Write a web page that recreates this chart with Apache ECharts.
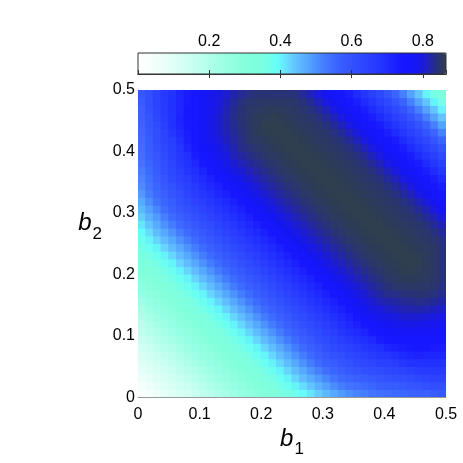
<!DOCTYPE html>
<html>
<head>
<meta charset="utf-8">
<script src="https://cdn.jsdelivr.net/npm/echarts@6/dist/echarts.min.js"></script>
<style>
  html, body { margin: 0; padding: 0; background: #fff; }
  #main { width: 463px; height: 463px; }
</style>
</head>
<body>
<div id="main"></div>
<script>
// cell centres along b1 and b2
const b1Centers = [0.00625, 0.01875, 0.03125, 0.04375, 0.05625, 0.06875, 0.08125, 0.09375, 0.10625, 0.11875,
                   0.13125, 0.14375, 0.15625, 0.16875, 0.18125, 0.19375, 0.20625, 0.21875, 0.23125, 0.24375,
                   0.25625, 0.26875, 0.28125, 0.29375, 0.30625, 0.31875, 0.33125, 0.34375, 0.35625, 0.36875,
                   0.38125, 0.39375, 0.40625, 0.41875, 0.43125, 0.44375, 0.45625, 0.46875, 0.48125, 0.49375];
const b2Centers = [0.00625, 0.01875, 0.03125, 0.04375, 0.05625, 0.06875, 0.08125, 0.09375, 0.10625, 0.11875,
                   0.13125, 0.14375, 0.15625, 0.16875, 0.18125, 0.19375, 0.20625, 0.21875, 0.23125, 0.24375,
                   0.25625, 0.26875, 0.28125, 0.29375, 0.30625, 0.31875, 0.33125, 0.34375, 0.35625, 0.36875,
                   0.38125, 0.39375, 0.40625, 0.41875, 0.43125, 0.44375, 0.45625, 0.46875, 0.48125, 0.49375];

// values, one row per b2 (bottom row first), one entry per b1
const values = [
  [.02,.04,.06,.08,.10,.115,.13,.15,.17,.185,.20,.22,.24,.255,.27,.29,.31,.325,.34,.36,.375,.392,.413,.434,.455,.473,.49,.505,.515,.523,.535,.54,.545,.55,.555,.56,.565,.565,.575,.585],
  [.04,.06,.08,.10,.115,.13,.15,.17,.185,.20,.22,.24,.255,.27,.29,.31,.325,.34,.36,.38,.40,.42,.442,.463,.484,.505,.523,.535,.54,.55,.558,.57,.575,.575,.585,.59,.59,.605,.61,.61],
  [.06,.08,.10,.115,.13,.15,.17,.185,.20,.22,.24,.255,.27,.29,.31,.325,.34,.36,.38,.40,.425,.45,.47,.492,.513,.534,.55,.558,.57,.575,.585,.593,.60,.61,.61,.615,.63,.635,.64,.64],
  [.08,.10,.115,.13,.15,.17,.185,.20,.22,.24,.255,.27,.29,.31,.325,.34,.36,.38,.40,.425,.45,.475,.50,.52,.542,.558,.569,.585,.593,.605,.61,.615,.628,.635,.64,.65,.66,.665,.665,.665],
  [.10,.115,.13,.15,.17,.185,.20,.22,.24,.255,.27,.29,.31,.325,.34,.36,.38,.40,.425,.45,.475,.50,.525,.55,.565,.577,.593,.604,.62,.628,.635,.645,.65,.658,.675,.685,.685,.69,.69,.685],
  [.115,.13,.15,.17,.185,.20,.22,.24,.255,.27,.29,.31,.325,.34,.36,.38,.40,.425,.45,.475,.50,.525,.55,.57,.585,.60,.612,.628,.639,.65,.663,.67,.675,.69,.703,.71,.715,.71,.71,.71],
  [.13,.15,.17,.185,.20,.22,.24,.255,.27,.29,.31,.325,.34,.36,.38,.40,.425,.45,.475,.50,.525,.55,.57,.585,.605,.62,.635,.647,.658,.674,.685,.693,.71,.72,.725,.733,.735,.735,.73,.728],
  [.15,.17,.185,.20,.22,.24,.255,.27,.29,.31,.325,.34,.36,.38,.40,.425,.45,.475,.50,.525,.55,.57,.585,.605,.62,.64,.655,.665,.682,.693,.704,.725,.738,.745,.75,.75,.753,.755,.753,.745],
  [.17,.185,.20,.22,.24,.255,.27,.29,.31,.325,.34,.36,.38,.40,.425,.45,.475,.50,.525,.55,.57,.585,.605,.62,.64,.655,.67,.69,.70,.712,.733,.749,.76,.768,.77,.77,.77,.771,.77,.767],
  [.185,.20,.22,.24,.255,.27,.29,.31,.325,.34,.36,.38,.40,.425,.45,.475,.50,.525,.55,.57,.585,.605,.62,.64,.655,.67,.69,.705,.72,.74,.757,.768,.779,.785,.788,.79,.788,.785,.785,.783],
  [.20,.22,.24,.255,.27,.29,.31,.325,.34,.36,.38,.40,.425,.45,.475,.50,.525,.55,.57,.585,.605,.62,.64,.655,.67,.69,.705,.72,.745,.765,.775,.787,.793,.799,.805,.806,.805,.802,.798,.796],
  [.22,.24,.255,.27,.29,.31,.325,.34,.36,.38,.40,.425,.45,.475,.50,.525,.55,.57,.585,.605,.62,.64,.655,.67,.69,.705,.72,.745,.765,.78,.795,.80,.807,.813,.817,.82,.82,.818,.813,.807],
  [.24,.255,.27,.29,.31,.325,.34,.36,.38,.40,.425,.45,.475,.50,.525,.55,.57,.585,.605,.62,.64,.655,.67,.69,.705,.72,.745,.765,.78,.795,.805,.815,.82,.825,.828,.831,.833,.831,.827,.82],
  [.255,.27,.29,.31,.325,.34,.36,.38,.40,.425,.45,.475,.50,.525,.55,.57,.585,.605,.62,.64,.655,.67,.69,.705,.72,.745,.765,.78,.795,.805,.815,.825,.833,.835,.839,.841,.842,.842,.838,.83],
  [.27,.29,.31,.325,.34,.36,.38,.40,.425,.45,.475,.50,.525,.55,.57,.585,.605,.62,.64,.655,.67,.69,.705,.72,.745,.765,.78,.795,.805,.815,.825,.833,.84,.847,.848,.85,.85,.849,.845,.837],
  [.29,.31,.325,.34,.36,.38,.40,.425,.45,.475,.50,.525,.55,.57,.585,.605,.62,.64,.655,.67,.69,.705,.72,.745,.765,.78,.795,.805,.815,.825,.833,.84,.847,.853,.858,.857,.857,.853,.848,.842],
  [.31,.325,.34,.36,.38,.40,.425,.45,.475,.50,.525,.55,.57,.585,.605,.62,.64,.655,.67,.69,.705,.72,.745,.765,.78,.795,.805,.815,.825,.833,.84,.847,.853,.858,.862,.865,.86,.856,.85,.842],
  [.325,.34,.36,.38,.40,.425,.45,.475,.50,.525,.55,.57,.585,.605,.62,.64,.655,.67,.69,.705,.72,.745,.765,.78,.795,.805,.815,.825,.833,.84,.847,.853,.858,.862,.865,.865,.864,.857,.85,.842],
  [.34,.36,.38,.40,.425,.45,.475,.50,.525,.55,.57,.585,.605,.62,.64,.655,.67,.69,.705,.72,.745,.765,.78,.795,.805,.815,.825,.833,.84,.847,.853,.858,.862,.865,.865,.864,.862,.858,.849,.842],
  [.36,.38,.40,.425,.45,.475,.50,.525,.55,.57,.585,.605,.62,.64,.655,.67,.69,.705,.72,.745,.765,.78,.795,.805,.815,.825,.833,.84,.847,.853,.858,.862,.865,.865,.864,.862,.858,.854,.85,.84],
  [.375,.40,.425,.45,.475,.50,.525,.55,.57,.585,.605,.62,.64,.655,.67,.69,.705,.72,.745,.765,.78,.795,.805,.815,.825,.833,.84,.847,.853,.858,.862,.865,.865,.864,.862,.858,.854,.85,.845,.838],
  [.392,.42,.45,.475,.50,.525,.55,.57,.585,.605,.62,.64,.655,.67,.69,.705,.72,.745,.765,.78,.795,.805,.815,.825,.833,.84,.847,.853,.858,.862,.865,.865,.864,.862,.858,.854,.85,.845,.838,.828],
  [.413,.442,.47,.50,.525,.55,.57,.585,.605,.62,.64,.655,.67,.69,.705,.72,.745,.765,.78,.795,.805,.815,.825,.833,.84,.847,.853,.858,.862,.865,.865,.864,.862,.858,.854,.85,.845,.838,.828,.815],
  [.434,.463,.492,.52,.55,.57,.585,.605,.62,.64,.655,.67,.69,.705,.72,.745,.765,.78,.795,.805,.815,.825,.833,.84,.847,.853,.858,.862,.865,.865,.864,.862,.858,.854,.85,.845,.838,.828,.815,.80],
  [.455,.484,.513,.542,.565,.585,.605,.62,.64,.655,.67,.69,.705,.72,.745,.765,.78,.795,.805,.815,.825,.833,.84,.847,.853,.858,.862,.865,.865,.864,.862,.858,.854,.85,.845,.838,.828,.815,.80,.78],
  [.473,.505,.534,.558,.577,.60,.62,.64,.655,.67,.69,.705,.72,.745,.765,.78,.795,.805,.815,.825,.833,.84,.847,.853,.858,.862,.865,.865,.864,.862,.858,.854,.85,.845,.838,.828,.815,.80,.78,.765],
  [.49,.523,.55,.569,.593,.612,.635,.655,.67,.69,.705,.72,.745,.765,.78,.795,.805,.815,.825,.833,.84,.847,.853,.858,.862,.865,.865,.864,.862,.858,.854,.85,.845,.838,.828,.815,.80,.78,.765,.745],
  [.505,.535,.558,.585,.604,.628,.647,.665,.69,.705,.72,.745,.765,.78,.795,.805,.815,.825,.833,.84,.847,.853,.858,.862,.865,.865,.864,.862,.858,.854,.85,.845,.838,.828,.815,.80,.78,.765,.745,.725],
  [.515,.54,.57,.593,.62,.639,.658,.682,.70,.72,.745,.765,.78,.795,.805,.815,.825,.833,.84,.847,.853,.858,.862,.865,.865,.864,.862,.858,.854,.85,.845,.838,.828,.815,.80,.78,.765,.745,.725,.70],
  [.523,.55,.575,.605,.628,.65,.674,.693,.712,.74,.765,.78,.795,.805,.815,.825,.833,.84,.847,.853,.858,.862,.865,.865,.864,.862,.858,.854,.85,.845,.838,.828,.815,.80,.78,.765,.745,.725,.70,.675],
  [.535,.558,.585,.61,.635,.663,.685,.704,.733,.757,.775,.795,.805,.815,.825,.833,.84,.847,.853,.858,.862,.865,.865,.864,.862,.858,.854,.85,.845,.838,.828,.815,.80,.78,.765,.745,.725,.70,.675,.65],
  [.54,.57,.593,.615,.645,.67,.693,.725,.749,.768,.787,.80,.815,.825,.833,.84,.847,.853,.858,.862,.865,.865,.864,.862,.858,.854,.85,.845,.838,.828,.815,.80,.78,.765,.745,.725,.70,.675,.65,.625],
  [.545,.575,.60,.628,.65,.675,.71,.738,.76,.779,.793,.807,.82,.833,.84,.847,.853,.858,.862,.865,.865,.864,.862,.858,.854,.85,.845,.838,.828,.815,.80,.78,.765,.745,.725,.70,.675,.65,.625,.595],
  [.55,.575,.61,.635,.658,.69,.72,.745,.768,.785,.799,.813,.825,.835,.847,.853,.858,.862,.865,.865,.864,.862,.858,.854,.85,.845,.838,.828,.815,.80,.78,.765,.745,.725,.70,.675,.65,.625,.595,.56],
  [.555,.585,.61,.64,.675,.703,.725,.75,.77,.788,.805,.817,.828,.839,.848,.858,.862,.865,.865,.864,.862,.858,.854,.85,.845,.838,.828,.815,.80,.78,.765,.745,.725,.70,.675,.65,.625,.595,.56,.52],
  [.56,.59,.615,.65,.685,.71,.733,.75,.77,.79,.806,.82,.831,.841,.85,.857,.865,.865,.864,.862,.858,.854,.85,.845,.838,.828,.815,.80,.78,.765,.745,.725,.70,.675,.65,.625,.595,.56,.52,.48],
  [.565,.59,.63,.66,.685,.715,.735,.753,.77,.788,.805,.82,.833,.842,.85,.857,.86,.864,.862,.858,.854,.85,.845,.838,.828,.815,.80,.78,.765,.745,.725,.70,.675,.65,.625,.595,.56,.52,.48,.44],
  [.565,.605,.635,.665,.69,.71,.735,.755,.771,.785,.802,.818,.831,.842,.849,.853,.856,.857,.858,.854,.85,.845,.838,.828,.815,.80,.78,.765,.745,.725,.70,.675,.65,.625,.595,.56,.52,.48,.44,.40],
  [.575,.61,.64,.665,.69,.71,.73,.753,.77,.785,.798,.813,.827,.838,.845,.848,.85,.85,.849,.85,.845,.838,.828,.815,.80,.78,.765,.745,.725,.70,.675,.65,.625,.595,.56,.52,.48,.44,.40,.36],
  [.585,.61,.64,.665,.685,.71,.728,.745,.767,.783,.796,.807,.82,.83,.837,.842,.842,.842,.842,.84,.838,.828,.815,.80,.78,.765,.745,.725,.70,.675,.65,.625,.595,.56,.52,.48,.44,.40,.36,.32]
];

// colour bar range and its colours (white - aquamarine - cyan - blue - dark slate)
const barMin = 0;
const barMax = 0.865;
const barColors = [
  '#ffffff', '#fafffd', '#f4fffc', '#ecfffa', '#e4fff7', '#dbfff5', '#d2fff3', '#c8fff1',
  '#bffff0', '#b3ffec', '#a8ffe8', '#9effe5', '#94ffe2', '#8cffdf', '#84ffdc', '#80ffdc',
  '#7cffe0', '#72ffea', '#66fff8', '#66e8ff', '#66ccff', '#5eb8ff', '#55a8ff', '#4e94ff',
  '#4680ff', '#4070ff', '#3a62ff', '#3659ff', '#3250ff', '#2e48ff', '#2a40ff', '#2638ff',
  '#2230ff', '#1d24ff', '#1818ff', '#1616ff', '#1616f4', '#1a1ae0', '#2226a8', '#2a3470',
  '#2f3f4f'
];

const font = 'Liberation Sans';
const chart = echarts.init(document.getElementById('main'));

const cells = [];
values.forEach((row, j) => {
    row.forEach((v, i) => {
        cells.push([b1Centers[i], b2Centers[j], v]);
    });
});
const halfX = (b1Centers[1] - b1Centers[0]) / 2;
const halfY = (b2Centers[1] - b2Centers[0]) / 2;

const renderCell = (params, api) => {
    const x = api.value(0);
    const y = api.value(1);
    const p0 = api.coord([x - halfX, y + halfY]);
    const p1 = api.coord([x + halfX, y - halfY]);
    return {
        type: 'rect',
        shape: {
            x: p0[0] - 0.5,
            y: p0[1] - 0.5,
            width: p1[0] - p0[0] + 1,
            height: p1[1] - p0[1] + 1
        },
        style: { fill: api.visual('color') }
    };
};

const nameRich = {
    b: { fontFamily: font, fontSize: 24, fontStyle: 'italic', color: '#000', lineHeight: 24, verticalAlign: 'top' },
    s: { fontFamily: font, fontSize: 17, color: '#000', lineHeight: 17, padding: [14, 0, 0, 1], verticalAlign: 'top' }
};

const option = {
    animation: false,
    textStyle: { fontFamily: font },
    grid: [
        { left: 138, top: 90, width: 308, height: 310 },
        { left: 138, top: 53, width: 308, height: 21, show: true, borderColor: '#333', borderWidth: 1, z: 10 }
    ],
    xAxis: [
        {
            gridIndex: 0, type: 'value', min: 0, max: 0.5, interval: 0.1, position: 'bottom',
            axisLine: { lineStyle: { color: '#999' } },
            axisTick: { show: false },
            splitLine: { show: false },
            axisLabel: { color: '#000', fontSize: 16, margin: 9 },
            name: '{b|b}{s|1}', nameLocation: 'middle', nameGap: 27,
            nameTextStyle: { rich: nameRich }
        },
        {
            gridIndex: 0, type: 'value', min: 0, max: 0.5, position: 'top',
            axisLine: { lineStyle: { color: '#999' } },
            axisTick: { show: false }, axisLabel: { show: false }, splitLine: { show: false }
        },
        {
            gridIndex: 1, type: 'value', min: barMin, max: barMax, interval: 0.2, position: 'top', z: 12,
            axisLine: { lineStyle: { color: '#333' } },
            axisTick: { inside: true, length: 4, lineStyle: { color: '#333' } },
            axisLabel: { color: '#000', fontSize: 16, margin: 3, showMinLabel: false, showMaxLabel: false },
            splitLine: { show: false }
        },
        {
            gridIndex: 1, type: 'value', min: barMin, max: barMax, interval: 0.2, position: 'bottom', z: 12,
            axisLine: { lineStyle: { color: '#333' } },
            axisTick: { inside: true, length: 4, lineStyle: { color: '#333' } },
            axisLabel: { show: false },
            splitLine: { show: false }
        }
    ],
    yAxis: [
        {
            gridIndex: 0, type: 'value', min: 0, max: 0.5, interval: 0.1,
            axisLine: { lineStyle: { color: '#999' } },
            axisTick: { show: false },
            splitLine: { show: false },
            axisLabel: { color: '#000', fontSize: 16, margin: 3 },
            name: '{b|b}{s|2}', nameLocation: 'middle', nameRotate: 0, nameGap: 36,
            nameTextStyle: { rich: nameRich, padding: [0, 0, 40, 0] }
        },
        { gridIndex: 1, type: 'value', show: false }
    ],
    visualMap: {
        type: 'continuous',
        min: barMin,
        max: barMax,
        dimension: 2,
        seriesIndex: 0,
        orient: 'horizontal',
        left: 138,
        top: 53,
        itemWidth: 21,
        itemHeight: 308,
        padding: 0,
        calculable: false,
        hoverLink: false,
        z: 1,
        inRange: { color: barColors }
    },
    series: [
        {
            type: 'custom',
            xAxisIndex: 0,
            yAxisIndex: 0,
            clip: true,
            renderItem: renderCell,
            data: cells
        }
    ]
};

chart.setOption(option);
</script>
</body>
</html>
